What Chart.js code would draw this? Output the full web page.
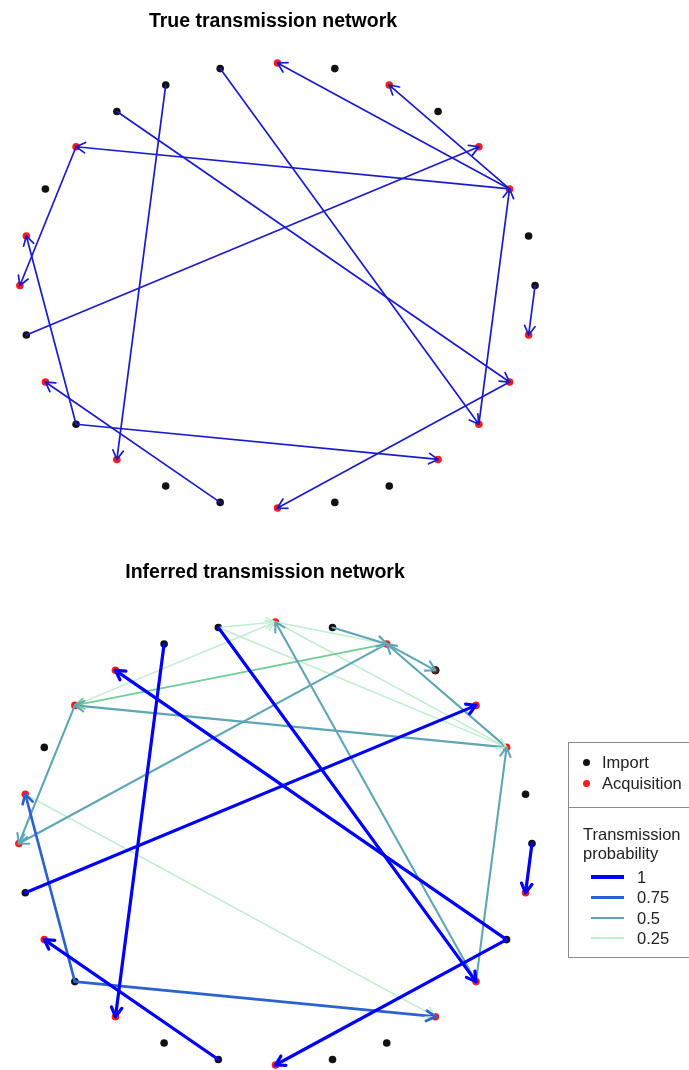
<!DOCTYPE html>
<html>
<head>
<meta charset="utf-8">
<script src="https://cdn.jsdelivr.net/npm/chart.js@4.4.1/dist/chart.umd.min.js"></script>
<style>
  body { margin: 0; background: #fff; overflow: hidden; width: 689px; height: 1070px; position: relative; font-family: "Liberation Sans", Arial, sans-serif; }
  .net { position: absolute; left: 0; width: 689px; height: 535px; }
  #legend { position: absolute; left: 568px; top: 742px; width: 140px; height: 214px; border: 1px solid #8a8a8a; }
  #legend .sep { position: absolute; left: 0; right: 0; top: 64px; border-top: 1px solid #8a8a8a; }
  #legend .txt { position: absolute; font-size: 16.5px; line-height: 20px; color: #222; white-space: nowrap; }
  #legend .dot { position: absolute; width: 7px; height: 7px; border-radius: 50%; }
  #legend .swatch { position: absolute; width: 33px; }
</style>
</head>
<body>
<div class="net" style="top:0"><canvas id="trueNet"></canvas></div>
<div class="net" style="top:535px"><canvas id="inferredNet"></canvas></div>
<div id="legend"></div>

<script>
// 28 patients laid out on a circle, numbered clockwise from the top
const nodeCount = 28;

// node type per patient: I = import, A = acquisition, M = uncertain
const trueTypes = ["A","I","A","I","A","A","I","I","A","A","A","A","I","I",
                   "A","I","I","A","I","A","I","A","A","I","A","I","I","I"];
const inferredTypes = ["A","I","A","M","A","A","I","I","A","I","A","A","I","I",
                       "A","I","I","A","I","A","I","A","A","I","A","A","I","I"];

// true transmission events [source, target]
const trueEdges = [
  [5, 0], [5, 2], [5, 24], [20, 4], [10, 5], [27, 10], [25, 9],
  [26, 17], [24, 21], [18, 22], [18, 11], [15, 19], [9, 14], [7, 8]
];

// inferred transmission events [source, target, probability]
const inferredEdges = [
  [27, 0, 0.25], [24, 0, 0.25], [0, 2, 0.25], [0, 5, 0.25], [27, 5, 0.25], [22, 11, 0.25],
  [2, 24, 0.375],
  [10, 0, 0.5], [1, 2, 0.5], [5, 2, 0.5], [2, 3, 0.5], [10, 5, 0.5], [5, 24, 0.5],
  [24, 21, 0.5], [2, 21, 0.5],
  [18, 22, 0.75], [18, 11, 0.75],
  [26, 17, 1], [27, 10, 1], [9, 25, 1], [9, 14, 1], [20, 4, 1], [15, 19, 1], [7, 8, 1]
];

// legend levels for transmission probability
const probLevels = [1, 0.75, 0.5, 0.25];

const FONT = '"Liberation Sans", Arial, sans-serif';
const nodeColours = { I: "#111111", A: "#ff1a1a", M: "#6a1616" };
const trueEdgeColour = "#1a1ad0";

// colour ramp for edge probability
const probRamp = [
  [0.25, [192, 238, 208]],
  [0.375, [116, 204, 150]],
  [0.5, [94, 166, 181]],
  [0.75, [43, 98, 207]],
  [1, [0, 0, 255]]
];
function probColour(p) {
  for (let i = 1; i < probRamp.length; i++) {
    const [p0, c0] = probRamp[i - 1], [p1, c1] = probRamp[i];
    if (p <= p1) {
      const t = Math.max(0, (p - p0) / (p1 - p0));
      const c = c0.map((v, k) => Math.round(v + (c1[k] - v) * t));
      return `rgb(${c[0]},${c[1]},${c[2]})`;
    }
  }
  return "rgb(0,0,255)";
}
const probWidth = p => 1 + 2.2 * p;

// circular layout (unit circle, clockwise from top)
const layout = Array.from({ length: nodeCount }, (_, i) => {
  const a = 2 * Math.PI * i / nodeCount;
  return { x: Math.sin(a), y: Math.cos(a) };
});

// x range so that the circle spans pxLo..pxHi inside a chart area of width w
function xRange(pxLo, pxHi, w) {
  const k = 2 / (pxHi - pxLo);
  return { min: -1 - pxLo * k, max: 1 + (w - pxHi) * k };
}

// open arrowheads at the target end of each edge
const arrowHeads = {
  id: "arrowHeads",
  afterDatasetsDraw(chart) {
    const ctx = chart.ctx;
    const len = 10.5, spread = Math.PI / 6;
    chart.data.datasets.forEach((ds, i) => {
      if (!ds.arrow) return;
      const pts = chart.getDatasetMeta(i).data;
      const a = pts[0], b = pts[1];
      const ang = Math.atan2(b.y - a.y, b.x - a.x);
      ctx.save();
      ctx.strokeStyle = ds.borderColor;
      ctx.lineWidth = ds.borderWidth;
      ctx.lineCap = "round";
      ctx.lineJoin = "round";
      ctx.beginPath();
      ctx.moveTo(b.x - len * Math.cos(ang - spread), b.y - len * Math.sin(ang - spread));
      ctx.lineTo(b.x, b.y);
      ctx.lineTo(b.x - len * Math.cos(ang + spread), b.y - len * Math.sin(ang + spread));
      ctx.stroke();
      ctx.restore();
    });
  }
};

function edgeDataset(from, to, colour, width, order) {
  return {
    data: [layout[from], layout[to]],
    showLine: true,
    borderColor: colour,
    borderWidth: width,
    borderCapStyle: "round",
    pointRadius: 0,
    pointHoverRadius: 0,
    clip: false,
    order: order,
    arrow: true
  };
}

function nodeDataset(types) {
  return {
    data: layout,
    pointRadius: 3.8,
    pointBackgroundColor: types.map(t => nodeColours[t]),
    pointBorderColor: types.map(t => t === "M" ? "#222" : nodeColours[t]),
    pointBorderWidth: types.map(t => t === "M" ? 1 : 0),
    clip: false,
    order: 50
  };
}

function drawNetwork(canvasId, title, titlePad, bottomPad, area, xPx, datasets) {
  new Chart(document.getElementById(canvasId), {
    type: "scatter",
    data: { datasets: datasets },
    options: {
      responsive: true,
      maintainAspectRatio: false,
      animation: false,
      layout: { padding: { left: 0, right: 689 - area, top: 0, bottom: bottomPad } },
      scales: {
        x: { type: "linear", display: false, ...xRange(xPx[0], xPx[1], area) },
        y: { type: "linear", display: false, min: -1, max: 1 }
      },
      plugins: {
        legend: { display: false },
        tooltip: { enabled: false },
        title: {
          display: true,
          text: title,
          color: "#000",
          font: { family: FONT, size: 19.5, weight: "bold" },
          padding: titlePad
        }
      }
    },
    plugins: [arrowHeads]
  });
}

// true network: straight blue edges
const trueSets = trueEdges.map(([s, t]) => edgeDataset(s, t, trueEdgeColour, 1.7, 10));
trueSets.push(nodeDataset(trueTypes));
drawNetwork("trueNet", "True transmission network", { top: 9.8, bottom: 29.8 }, 27, 546, [16, 535], trueSets);

// inferred network: colour and width by probability, strongest on top
const inferredSets = inferredEdges
  .slice()
  .sort((a, b) => a[2] - b[2])
  .map(([s, t, p]) => edgeDataset(s, t, probColour(p), probWidth(p), 10 + Math.round((1 - p) * 8)));
inferredSets.push(nodeDataset(inferredTypes));
drawNetwork("inferredNet", "Inferred transmission network", { top: 26.3, bottom: 37.3 }, 2, 530, [14, 532], inferredSets);

// legend box
const legend = document.getElementById("legend");
function add(cls, style, text) {
  const el = document.createElement("div");
  el.className = cls;
  Object.assign(el.style, style);
  if (text !== undefined) el.textContent = text;
  legend.appendChild(el);
}
add("sep", {});
[["I", "Import"], ["A", "Acquisition"]].forEach(([t, label], i) => {
  const cy = 19 + i * 21;
  add("dot", { left: "14px", top: (cy - 3.5) + "px", background: nodeColours[t] });
  add("txt", { left: "33px", top: (cy - 10) + "px" }, label);
});
add("txt", { left: "14px", top: "81px" }, "Transmission");
add("txt", { left: "14px", top: "100px" }, "probability");
probLevels.forEach((p, i) => {
  const cy = 134 + i * 20.3;
  const w = probWidth(p);
  add("swatch", { left: "22px", top: (cy - w / 2) + "px", height: w + "px", background: probColour(p) });
  add("txt", { left: "68px", top: (cy - 10) + "px" }, String(p));
});
</script>
</body>
</html>
